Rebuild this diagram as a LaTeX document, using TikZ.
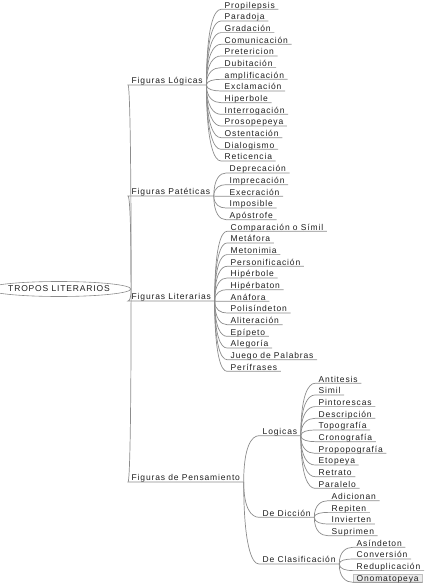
\documentclass[tikz,border=0pt]{standalone}
\usepackage{fontspec}
\usetikzlibrary{calc,shapes.geometric}
\newfontfamily\mmfont[LetterSpace=10]{Liberation Sans}
\definecolor{lnk}{RGB}{140,140,140}
\definecolor{txt}{RGB}{30,30,30}
\tikzset{
  lbl/.style={anchor=south west, inner xsep=3.5pt, inner ysep=0pt, text height=6.5pt, text depth=1pt,
     font=\mmfont\fontsize{8.5}{9}\selectfont, text=txt},
  link/.style={draw=lnk, line width=0.7pt},
}
\newcommand\branch[2]{\draw[link] (#1) .. controls ($(#1 |- #2.south west)!0.25!(#1)$) and ($(#1 |- #2.south west)!0.5!(#2.south west)$) .. (#2.south west) -- (#2.south east);}
\begin{document}
\begin{tikzpicture}[x=1pt,y=-1pt]
\useasboundingbox (0,0) rectangle (425,585);
\node[draw=lnk, ellipse, minimum width=115pt, minimum height=15pt, inner sep=0pt, line width=0.6pt,
  font=\mmfont\fontsize{8.5}{9}\selectfont, text=txt] (root) at (59,289) {TROPOS LITERARIOS};
% level 1
\node[lbl] (fl) at (128,85) {Figuras Lógicas};
\node[lbl] (fp) at (128,196) {Figuras Patéticas};
\node[lbl] (fli) at (128,301) {Figuras Literarias};
\node[lbl] (fpe) at (128,482) {Figuras de Pensamiento};
\foreach \n in {fl,fp,fli,fpe} {\branch{root.east}{\n}}
% Figuras Logicas
\foreach \t [count=\i from 0] in {Propilepsis,Paradoja,Gradación,Comunicación,Pretericion,Dubitación,amplificación,Exclamación,Hiperbole,Interrogación,Prosopepeya,Ostentación,Dialogismo,Reticencia} {
  \node[lbl] (a\i) at (221,{9.3+11.67*\i}) {\t};
  \branch{fl.south east}{a\i}
}
% Figuras Pateticas
\foreach \t [count=\i from 0] in {Deprecación,Imprecación,Execración,Imposible,Apóstrofe} {
  \node[lbl] (b\i) at (226,{173+11.67*\i}) {\t};
  \branch{fp.south east}{b\i}
}
% Figuras Literarias
\foreach \t [count=\i from 0] in {Comparación o Símil,Metáfora,Metonimia,Personificación,Hipérbole,Hipérbaton,Anáfora,Polisíndeton,Aliteración,Epípeto,Alegoría,Juego de Palabras,Perífrases} {
  \node[lbl] (c\i) at (227,{231.3+11.67*\i}) {\t};
  \branch{fli.south east}{c\i}
}
% Figuras de Pensamiento
\node[lbl] (lg) at (259,435.7) {Logicas};
\node[lbl] (dd) at (259,517.3) {De Dicción};
\node[lbl] (dc) at (259,564) {De Clasificación};
\foreach \n in {lg,dd,dc} {\branch{fpe.south east}{\n}}
\foreach \t [count=\i from 0] in {Antitesis,Simil,Pintorescas,Descripción,Topografía,Cronografía,Propopografía,Etopeya,Retrato,Paralelo} {
  \node[lbl] (d\i) at (315,{383.3+11.67*\i}) {\t};
  \branch{lg.south east}{d\i}
}
\foreach \t [count=\i from 0] in {Adicionan,Repiten,Invierten,Suprimen} {
  \node[lbl] (e\i) at (328,{500.7+11.67*\i}) {\t};
  \branch{dd.south east}{e\i}
}
\foreach \t [count=\i from 0] in {Asíndeton,Conversión,Reduplicación} {
  \node[lbl] (f\i) at (353,{547.3+11.67*\i}) {\t};
  \branch{dc.south east}{f\i}
}
\node[lbl, fill=black!8, draw=black!25, line width=0.4pt] (f3) at (353,{547.3+11.67*3}) {Onomatopeya};
\branch{dc.south east}{f3}
\end{tikzpicture}
\end{document}
